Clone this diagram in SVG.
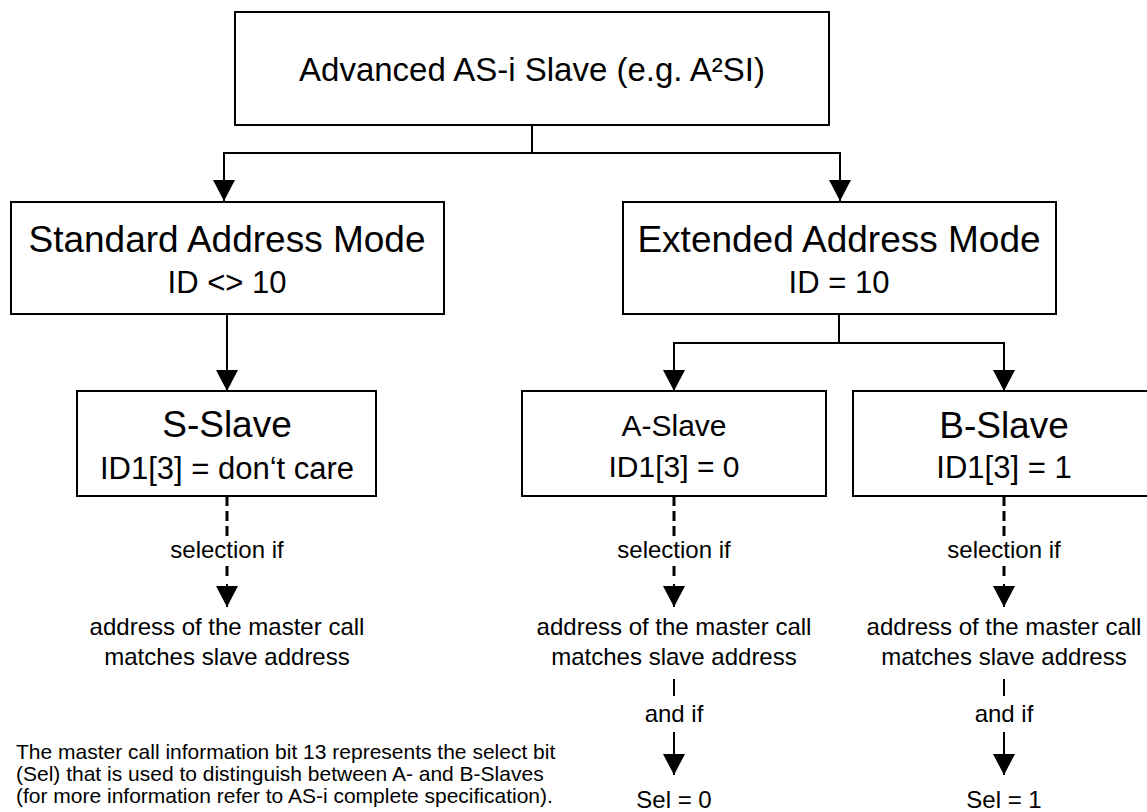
<svg xmlns="http://www.w3.org/2000/svg" width="1147" height="812" viewBox="0 0 1147 812">
<style>
  .box { fill: #fff; stroke: #000; stroke-width: 2; }
  .t { font-family: "Liberation Sans", Arial, sans-serif; fill: #000; text-anchor: middle; }
  .h1 { font-size: 33px; }
  .h2 { font-size: 37px; }
  .h3 { font-size: 31px; }
  .h4 { font-size: 30px; }
  .s { font-size: 24px; }
  .note { font-family: "Liberation Sans", Arial, sans-serif; font-size: 21px; fill: #000; }
  .ln { stroke: #000; stroke-width: 2; fill: none; }
  .dash { stroke: #000; stroke-width: 3; fill: none; stroke-dasharray: 10 5; }
</style>
<defs>
  <marker id="ah" viewBox="0 0 21 22" refX="21" refY="11" markerWidth="21" markerHeight="22" markerUnits="userSpaceOnUse" orient="auto">
    <path d="M0,0 L21,11 L0,22 z" fill="#000"/>
  </marker>
</defs>
<rect width="1147" height="812" fill="#fff"/>

<g id="connectors">
  <line class="ln" x1="532" y1="125" x2="532" y2="153"/>
  <line class="ln" x1="223" y1="153" x2="841" y2="153"/>
  <line class="ln" x1="224" y1="153" x2="224" y2="201" marker-end="url(#ah)"/>
  <line class="ln" x1="840" y1="153" x2="840" y2="201" marker-end="url(#ah)"/>
  <line class="ln" x1="227" y1="314" x2="227" y2="391" marker-end="url(#ah)"/>
  <line class="ln" x1="839" y1="314" x2="839" y2="343"/>
  <line class="ln" x1="673" y1="343" x2="1005" y2="343"/>
  <line class="ln" x1="674" y1="343" x2="674" y2="391" marker-end="url(#ah)"/>
  <line class="ln" x1="1004" y1="343" x2="1004" y2="391" marker-end="url(#ah)"/>
  <line class="dash" x1="227" y1="496" x2="227" y2="536"/>
  <line class="dash" x1="227" y1="566" x2="227" y2="579"/>
  <line class="ln" x1="227" y1="584" x2="227" y2="607" stroke-width="0" marker-end="url(#ah)"/>
  <line class="dash" x1="674" y1="496" x2="674" y2="536"/>
  <line class="dash" x1="674" y1="566" x2="674" y2="579"/>
  <line class="ln" x1="674" y1="584" x2="674" y2="607" stroke-width="0" marker-end="url(#ah)"/>
  <line class="dash" x1="1004" y1="496" x2="1004" y2="536"/>
  <line class="dash" x1="1004" y1="566" x2="1004" y2="579"/>
  <line class="ln" x1="1004" y1="584" x2="1004" y2="607" stroke-width="0" marker-end="url(#ah)"/>
  <line class="ln" x1="674" y1="679" x2="674" y2="696"/>
  <line class="ln" x1="674" y1="732" x2="674" y2="775" marker-end="url(#ah)"/>
  <line class="ln" x1="1004" y1="679" x2="1004" y2="696"/>
  <line class="ln" x1="1004" y1="732" x2="1004" y2="775" marker-end="url(#ah)"/>
</g>

<g id="top">
  <rect class="box" x="235" y="12" width="594" height="113"/>
  <text class="t h1" x="532" y="81">Advanced AS-i Slave (e.g. A²SI)</text>
</g>
<g id="standard">
  <rect class="box" x="11" y="202" width="433" height="112"/>
  <text class="t h2" x="227" y="252">Standard Address Mode</text>
  <text class="t h3" x="227" y="293">ID &lt;&gt; 10</text>
</g>
<g id="extended">
  <rect class="box" x="623" y="202" width="433" height="112"/>
  <text class="t h2" x="839" y="252">Extended Address Mode</text>
  <text class="t h3" x="839" y="293">ID = 10</text>
</g>
<g id="sslave">
  <rect class="box" x="77" y="391" width="299" height="105"/>
  <text class="t h2" x="227" y="437">S-Slave</text>
  <text class="t h3" x="227" y="479">ID1[3] = don‘t care</text>
</g>
<g id="aslave">
  <rect class="box" x="522" y="391" width="304" height="105"/>
  <text class="t h4" x="674" y="436">A-Slave</text>
  <text class="t h4" x="674" y="477">ID1[3] = 0</text>
</g>
<g id="bslave">
  <rect class="box" x="853" y="391" width="302" height="105"/>
  <text class="t h2" x="1004" y="438">B-Slave</text>
  <text class="t h3" x="1004" y="478">ID1[3] = 1</text>
</g>

<g id="labels">
  <text class="t s" x="227" y="558">selection if</text>
  <text class="t s" x="227" y="635">address of the master call</text>
  <text class="t s" x="227" y="665">matches slave address</text>
  <text class="t s" x="674" y="558">selection if</text>
  <text class="t s" x="674" y="635">address of the master call</text>
  <text class="t s" x="674" y="665">matches slave address</text>
  <text class="t s" x="674" y="722">and if</text>
  <text class="t s" x="674" y="808">Sel = 0</text>
  <text class="t s" x="1004" y="558">selection if</text>
  <text class="t s" x="1004" y="635">address of the master call</text>
  <text class="t s" x="1004" y="665">matches slave address</text>
  <text class="t s" x="1004" y="722">and if</text>
  <text class="t s" x="1004" y="808">Sel = 1</text>
</g>

<g id="note">
  <text class="note" x="16" y="759">The master call information bit 13 represents the select bit</text>
  <text class="note" x="16" y="781">(Sel) that is used to distinguish between A- and B-Slaves</text>
  <text class="note" x="16" y="803">(for more information refer to AS-i complete specification).</text>
</g>
</svg>
